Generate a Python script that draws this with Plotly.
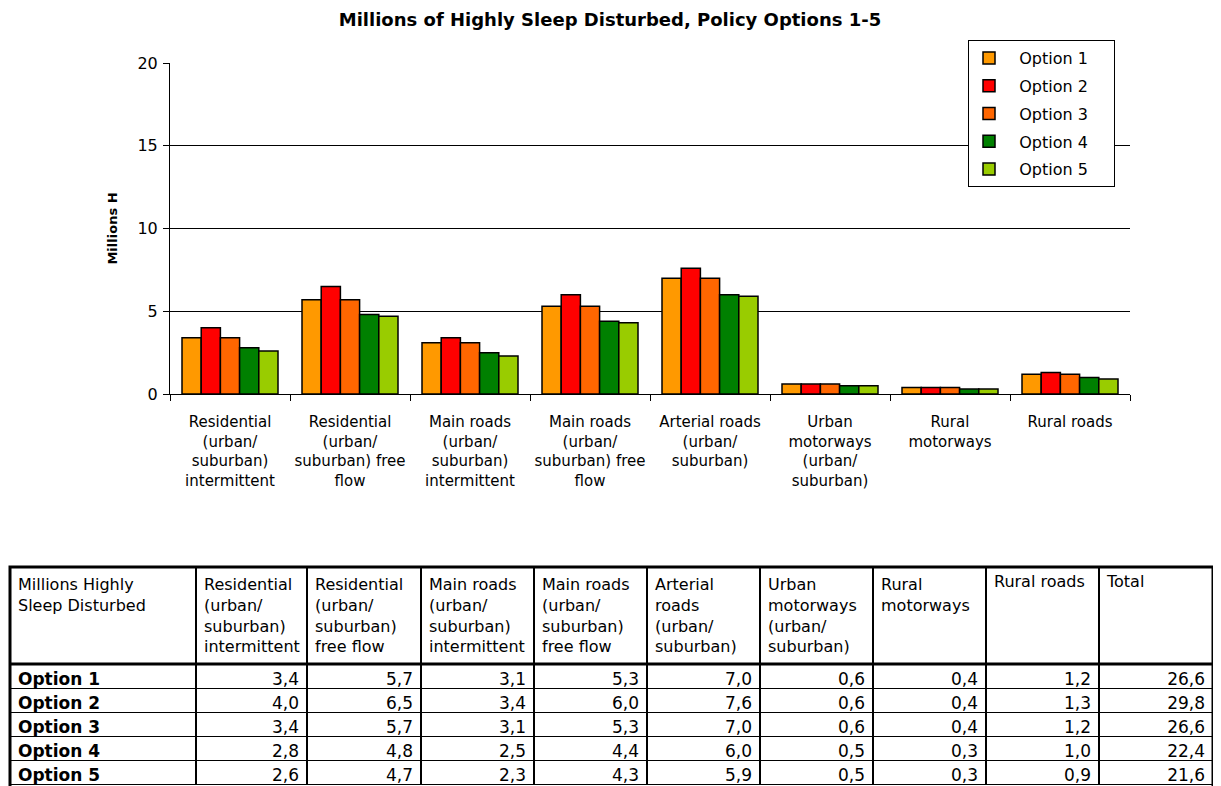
import plotly.graph_objects as go

# chart categories
categories = [
    "Residential<br>(urban/<br>suburban)<br>intermittent",
    "Residential<br>(urban/<br>suburban) free<br>flow",
    "Main roads<br>(urban/<br>suburban)<br>intermittent",
    "Main roads<br>(urban/<br>suburban) free<br>flow",
    "Arterial roads<br>(urban/<br>suburban)",
    "Urban<br>motorways<br>(urban/<br>suburban)",
    "Rural<br>motorways",
    "Rural roads",
]

# table header
table_header = [
    "Millions Highly<br>Sleep Disturbed",
    "Residential<br>(urban/<br>suburban)<br>intermittent",
    "Residential<br>(urban/<br>suburban)<br>free flow",
    "Main roads<br>(urban/<br>suburban)<br>intermittent",
    "Main roads<br>(urban/<br>suburban)<br>free flow",
    "Arterial<br>roads<br>(urban/<br>suburban)",
    "Urban<br>motorways<br>(urban/<br>suburban)",
    "Rural<br>motorways",
    "Rural roads",
    "Total",
]

options = ["Option 1", "Option 2", "Option 3", "Option 4", "Option 5"]
option_1 = [3.4, 5.7, 3.1, 5.3, 7.0, 0.6, 0.4, 1.2]
option_2 = [4.0, 6.5, 3.4, 6.0, 7.6, 0.6, 0.4, 1.3]
option_3 = [3.4, 5.7, 3.1, 5.3, 7.0, 0.6, 0.4, 1.2]
option_4 = [2.8, 4.8, 2.5, 4.4, 6.0, 0.5, 0.3, 1.0]
option_5 = [2.6, 4.7, 2.3, 4.3, 5.9, 0.5, 0.3, 0.9]
totals = [26.6, 29.8, 26.6, 22.4, 21.6]

series = [option_1, option_2, option_3, option_4, option_5]
colors = ["#FF9900", "#FF0000", "#FF6600", "#008000", "#99CC00"]

FONT = "DejaVu Sans, sans-serif"
NB = "\u00a0"

# page body has an 8px margin, so screen px -> figure px is minus OFF
OFF = 8
W, H = 1213, 778
ML, MR, MT, MB = 2, 8, 55, 0
PW, PH = W - ML - MR, H - MT - MB


def px_x(p):
    return (p - OFF - ML) / PW


def px_y(p):
    return (H - MB - (p - OFF)) / PH


fig = go.Figure()

for i, (name, vals, col) in enumerate(zip(options, series, colors)):
    fig.add_trace(go.Bar(
        x=categories,
        y=vals,
        name=NB * 2 + name + NB * 4,
        legendgroup=str(i),
        marker=dict(color=col, line=dict(color="black", width=1.5)),
        xaxis="x", yaxis="y",
    ))


def fmt(v):
    return f"{v:.1f}".replace(".", ",")


columns = [[o.replace(" ", NB) for o in options]]
for i in range(len(categories)):
    columns.append([fmt(s[i]) for s in series])
columns.append([fmt(t) for t in totals])

fig.add_trace(go.Table(
    domain=dict(x=[0, 1], y=[0, px_y(567)]),
    columnwidth=[186, 111, 114, 113, 113, 113, 113, 113, 113, 114],
    header=dict(
        values=table_header,
        align="left",
        height=97,
        fill_color="white",
        line=dict(color="black", width=1.5),
        font=dict(family=FONT, size=16, color="black"),
    ),
    cells=dict(
        values=columns,
        align=["left"] + ["right"] * 9,
        height=24,
        fill_color="white",
        line=dict(color="black", width=1.5),
        font=dict(family=FONT, size=17, color="black",
                  weight=["bold"] + ["normal"] * 9),
    ),
))

fig.update_layout(
    width=W, height=H,
    margin=dict(l=ML, r=MR, t=MT, b=MB, autoexpand=False),
    paper_bgcolor="white",
    plot_bgcolor="white",
    font=dict(family=FONT, color="black"),
    title=dict(
        text="<b>Millions of Highly Sleep Disturbed, Policy Options 1-5</b>",
        x=(610 - OFF) / W, xanchor="center", y=1 - (20 - OFF) / H, yanchor="middle",
        font=dict(size=18, color="black"),
    ),
    barmode="group",
    bargap=0.2,
    bargroupgap=0,
    xaxis=dict(
        domain=[px_x(170), px_x(1130)],
        showline=True, linecolor="black", linewidth=1,
        ticks="outside", tickson="boundaries", ticklen=6, tickcolor="black",
        ticklabelstandoff=14,
        tickfont=dict(size=15, color="black"),
        showgrid=False,
        automargin=False,
    ),
    yaxis=dict(
        domain=[px_y(394), 1],
        range=[0, 20], dtick=5,
        showline=True, linecolor="black", linewidth=1,
        ticks="outside", ticklen=6, tickcolor="black",
        ticklabelstandoff=2,
        tickfont=dict(size=16, color="black"),
        gridcolor="black", gridwidth=1,
        zeroline=False,
        automargin=False,
        title=dict(text="<b>Millions H</b>", font=dict(size=13, color="black"), standoff=16),
    ),
    legend=dict(
        x=px_x(968), y=px_y(40), xanchor="left", yanchor="top",
        bgcolor="white", bordercolor="black", borderwidth=1,
        font=dict(size=16, color="black"),
        itemwidth=30,
        traceorder="grouped",
        tracegroupgap=4,
    ),
    shapes=[
        dict(type="rect", xref="paper", yref="paper",
             x0=0, x1=1, y0=px_y(790), y1=px_y(567),
             line=dict(color="black", width=3)),
        dict(type="line", xref="paper", yref="paper",
             x0=0, x1=1, y0=px_y(664), y1=px_y(664),
             line=dict(color="black", width=3)),
    ],
)

fig.write_html("out.html")
